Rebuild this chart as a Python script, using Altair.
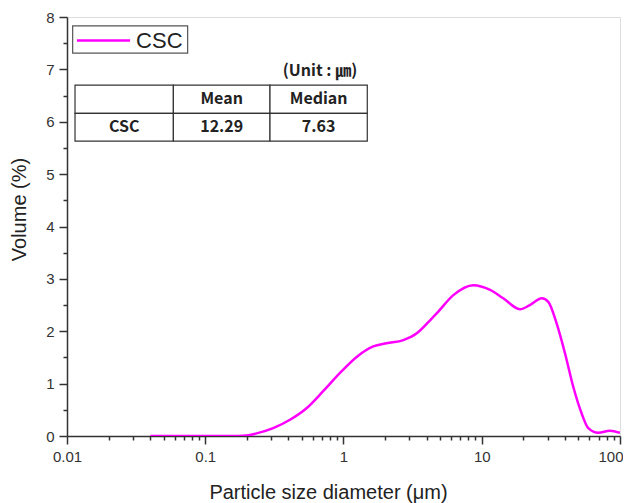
import math
import altair as alt
import pandas as pd

# ---- data ----
size_um = [0.04, 0.08, 0.15, 0.2, 0.235, 0.31, 0.41, 0.54, 0.71, 0.94, 1.245, 1.64,
           2.05, 2.71, 3.39, 4.23, 4.72, 6.23, 8.68, 11.5, 14.3, 18.9, 22.3, 27.2,
           30.3, 34.8, 40.0, 45.9, 52.8, 59.0, 69.7, 84.6, 100]
volume_pct = [0, 0, 0, 0.01, 0.05, 0.15, 0.31, 0.53, 0.85, 1.20, 1.51, 1.71,
              1.77, 1.83, 1.96, 2.21, 2.34, 2.69, 2.88, 2.79, 2.63, 2.42, 2.50, 2.63,
              2.56, 2.15, 1.58, 0.94, 0.43, 0.15, 0.06, 0.10, 0.06]

x_major = [0.01, 0.1, 1, 10, 100]
x_minor = [k * 10 ** e for e in range(-2, 2) for k in range(2, 10)]
y_major = [0, 1, 2, 3, 4, 5, 6, 7, 8]
y_minor = [0.5, 1.5, 2.5, 3.5, 4.5, 5.5, 6.5, 7.5]

series_name = "CSC"
table_header = ["", "Mean", "Median"]
table_row = ["CSC", "12.29", "7.63"]
unit_label = "(Unit : ㎛)"

# annotation placement in data units (log x, linear y)
col_edges = [0.01143, 0.0588, 0.294, 1.486]
row_edges = [6.70, 6.16, 5.63]
unit_pos = [0.676, 6.96]
legend_box = [0.01099, 0.0746, 7.83, 7.31]
legend_line_x = [0.0118, 0.0286]
legend_y = 7.55
legend_text_x = 0.0316

MAGENTA = "#FF00FF"
DARK = "#333333"

curve_df = pd.DataFrame({"size": size_um, "volume": volume_pct})

cells = []
for r, row in enumerate([table_header, table_row]):
    for c, txt in enumerate(row):
        x1, x2 = col_edges[c], col_edges[c + 1]
        y1, y2 = row_edges[r], row_edges[r + 1]
        cells.append({"x": x1, "x2": x2, "y": y1, "y2": y2, "text": txt,
                      "xc": math.sqrt(x1 * x2), "yc": (y1 + y2) / 2})
cells_df = pd.DataFrame(cells)

xs = alt.Scale(type="log", domain=[0.01, 100], nice=False)
ys = alt.Scale(domain=[0, 8], nice=False)

line = alt.Chart(curve_df).mark_line(
    color=MAGENTA, strokeWidth=2.5, interpolate="monotone", clip=True
).encode(
    x=alt.X("size:Q", scale=xs, axis=alt.Axis(
        orient="bottom", values=x_major, format="~g", grid=False,
        tickSize=8, tickWidth=1.5, tickColor=DARK,
        domainColor=DARK, domainWidth=1.5,
        labelFont="Liberation Sans", labelFontSize=15, labelColor=DARK,
        labelPadding=5, labelFlush=False, labelOverlap=False,
        labelAlign={"condition": {"test": "datum.value >= 100", "value": "right"},
                    "value": "center"},
        labelOffset={"condition": {"test": "datum.value >= 100", "value": 3},
                     "value": 0},
        title="Particle size diameter (μm)", titleFont="Liberation Sans",
        titleFontSize=20, titleFontWeight="normal", titleColor="#222222",
        titleX=261, titleY=62, titleBaseline="alphabetic")),
    y=alt.Y("volume:Q", scale=ys, axis=alt.Axis(
        orient="left", values=y_major, grid=False,
        tickSize=8, tickWidth=1.5, tickColor=DARK,
        domainColor=DARK, domainWidth=1.5,
        labelFont="Liberation Sans", labelFontSize=15, labelColor=DARK,
        labelPadding=5, labelFlush=False, labelOverlap=False,
        title="Volume (%)", titleFont="Liberation Sans",
        titleFontSize=20, titleFontWeight="normal", titleColor="#222222",
        titleX=-38, titleY=192)),
)

minor = alt.Chart(curve_df).mark_point(opacity=0).encode(
    x=alt.X("size:Q", scale=xs, axis=alt.Axis(
        orient="bottom", values=x_minor, labels=False, domain=False, grid=False,
        tickSize=4, tickWidth=1.5, tickColor=DARK, title=None)),
    y=alt.Y("volume:Q", scale=ys, axis=alt.Axis(
        orient="left", values=y_minor, labels=False, domain=False, grid=False,
        tickSize=4, tickWidth=1.5, tickColor=DARK, title=None)),
)

# legend box
leg_df = pd.DataFrame({"x": [legend_box[0]], "x2": [legend_box[1]],
                       "y": [legend_box[2]], "y2": [legend_box[3]]})
leg_rect = alt.Chart(leg_df).mark_rect(fill="white", stroke="#555555", strokeWidth=1.2).encode(
    x=alt.X("x:Q", scale=xs, axis=None), x2="x2:Q",
    y=alt.Y("y:Q", scale=ys, axis=None), y2="y2:Q")

leg_line_df = pd.DataFrame({"x": legend_line_x, "y": [legend_y, legend_y]})
leg_line = alt.Chart(leg_line_df).mark_line(color=MAGENTA, strokeWidth=2.5).encode(
    x=alt.X("x:Q", scale=xs, axis=None),
    y=alt.Y("y:Q", scale=ys, axis=None))

leg_text_df = pd.DataFrame({"x": [legend_text_x], "y": [legend_y], "t": [series_name]})
leg_text = alt.Chart(leg_text_df).mark_text(
    align="left", baseline="middle", font="Liberation Sans", fontSize=22, color="#222222"
).encode(
    x=alt.X("x:Q", scale=xs, axis=None),
    y=alt.Y("y:Q", scale=ys, axis=None), text="t:N")

# table
cell_rects = alt.Chart(cells_df).mark_rect(fill="white", stroke=DARK, strokeWidth=1.2).encode(
    x=alt.X("x:Q", scale=xs, axis=None), x2="x2:Q",
    y=alt.Y("y:Q", scale=ys, axis=None), y2="y2:Q")

cell_text = alt.Chart(cells_df).mark_text(
    align="center", baseline="middle", font="Noto Sans CJK KR", fontWeight="bold",
    fontSize=16, color="#222222"
).encode(
    x=alt.X("xc:Q", scale=xs, axis=None),
    y=alt.Y("yc:Q", scale=ys, axis=None), text="text:N")

unit_df = pd.DataFrame({"x": [unit_pos[0]], "y": [unit_pos[1]], "t": [unit_label]})
unit_text = alt.Chart(unit_df).mark_text(
    align="center", baseline="middle", font="Noto Sans CJK KR", fontWeight="bold",
    fontSize=16, color="#222222"
).encode(
    x=alt.X("x:Q", scale=xs, axis=None),
    y=alt.Y("y:Q", scale=ys, axis=None), text="t:N")

chart = alt.layer(
    line, minor, leg_rect, leg_line, leg_text, cell_rects, cell_text, unit_text
).resolve_axis(
    x="independent", y="independent"
).properties(
    width=553, height=419,
    autosize=alt.AutoSizeParams(type="none"),
    padding={"left": 59, "top": 9, "right": 3, "bottom": 67},
).configure_view(
    stroke=DARK, strokeWidth=1.5
).configure(background="white")

chart.save("out.html", embed_options={"renderer": "svg", "actions": False})
